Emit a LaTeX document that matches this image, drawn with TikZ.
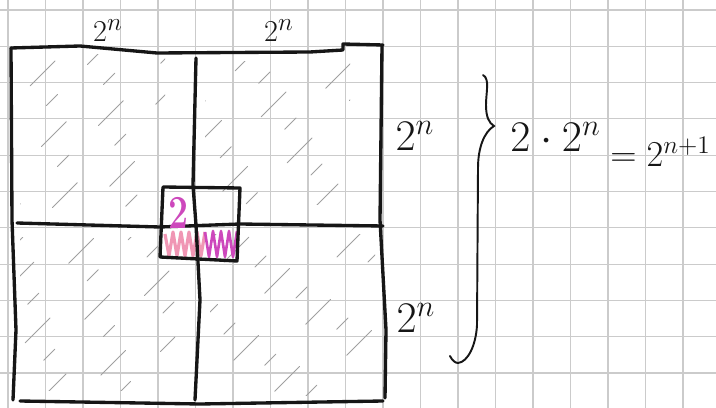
\documentclass[tikz,border=0pt]{standalone}
\definecolor{gridgray}{RGB}{203,203,203}
\definecolor{pen}{RGB}{22,22,22}
\definecolor{hatchgray}{RGB}{160,160,160}
\definecolor{marker}{RGB}{205,72,188}
\definecolor{markerlight}{RGB}{240,150,180}
\begin{document}
\begin{tikzpicture}[x=0.02cm,y=-0.02cm,
  gridline/.style={gridgray,line width=0.6pt},
  penline/.style={pen,line width=1.9pt,line cap=round,line join=round},
  braceline/.style={pen,line width=1.1pt,line cap=round},
  hatch/.style={hatchgray,line width=0.5pt,line cap=round,dash pattern=on 20pt off 24pt on 9pt off 30pt},
  lbl/.style={inner sep=0pt,text=pen,font=\fontsize{19}{22}\selectfont},
  biglbl/.style={inner sep=0pt,text=pen,font=\fontsize{24}{28}\selectfont}]
\useasboundingbox (0,0) rectangle (716,408);
\fill[white] (0,0) rectangle (716,408);
\foreach \i in {0,...,19} \draw[gridline] (8+37.5*\i,0) -- (8+37.5*\i,408);
\foreach \j in {0,...,11} \draw[gridline] (0,10+36.3*\j) -- (716,10+36.3*\j);
\begin{scope}
\clip (20,55) rectangle (165,212);
\foreach \c [count=\k] in {80,116,...,390} \draw[hatch,dash phase=\k*17pt] (\c,0) -- ++(-420,420);
\end{scope}
\begin{scope}
\clip (205,62) rectangle (350,205);
\foreach \c [count=\k] in {270,306,...,560} \draw[hatch,dash phase=\k*23pt] (\c,0) -- ++(-420,420);
\end{scope}
\begin{scope}
\clip (20,238) rectangle (175,390);
\foreach \c [count=\k] in {260,296,...,570} \draw[hatch,dash phase=\k*19pt] (\c,0) -- ++(-420,420);
\end{scope}
\begin{scope}
\clip (210,235) rectangle (375,395);
\foreach \c [count=\k] in {450,486,...,775} \draw[hatch,dash phase=\k*29pt] (\c,0) -- ++(-420,420);
\end{scope}
\draw[markerlight,line width=1.8pt,line join=round] (165,234) \foreach \x in {173,181,...,205} {-- (\x-4,256) -- (\x,232)};
\draw[marker,line width=1.5pt,line join=round] (205,232) \foreach \x in {213,221,...,237} {-- (\x-4,257) -- (\x,231)};
\draw[penline] (11,48) -- (80,46) -- (157,53) -- (310,52) -- (343,50) -- (343,44) -- (383,45);
\draw[penline] (382,46) -- (380,220) -- (386,330) -- (385,398);
\draw[penline] (11,48) -- (12,220) -- (16,330) -- (13,400);
\draw[penline] (20,401) -- (200,404) -- (383,401);
\draw[penline] (17,223) -- (160,227) -- (240,224) -- (383,226);
\draw[penline] (196,58) -- (193,185) -- (196,225) -- (200,300) -- (195,400);
\draw[penline] (163,187) -- (240,188) -- (237,261) -- (160,257) -- cycle;
\node[inner sep=0pt,text=marker,xscale=0.75,font=\fontsize{27}{30}\bfseries\selectfont] (mark) at (179,213) {2};
\draw[braceline] (483,75) .. controls (490,79) and (486,92) .. (486,105) .. controls (486,117) and (489,123) .. (494,126) .. controls (484,132) and (478,148) .. (478,168) -- (477,325) .. controls (476,345) and (468,362) .. (458,363) .. controls (455,363) and (452,360) .. (450,356);
\node[lbl] (topleft) at (108,31) {$2^n$};
\node[lbl] (topright) at (279,31) {$2^n$};
\node[biglbl] (rightup) at (415,136) {$2^n$};
\node[biglbl] (rightdown) at (416,318) {$2^n$};
\node[biglbl,anchor=west] (product) at (510,137) {$2\cdot 2^n$};
\node[biglbl,anchor=west,font=\fontsize{20}{24}\selectfont] (power) at (610,152) {$=2^{n+1}$};
\end{tikzpicture}
\end{document}
